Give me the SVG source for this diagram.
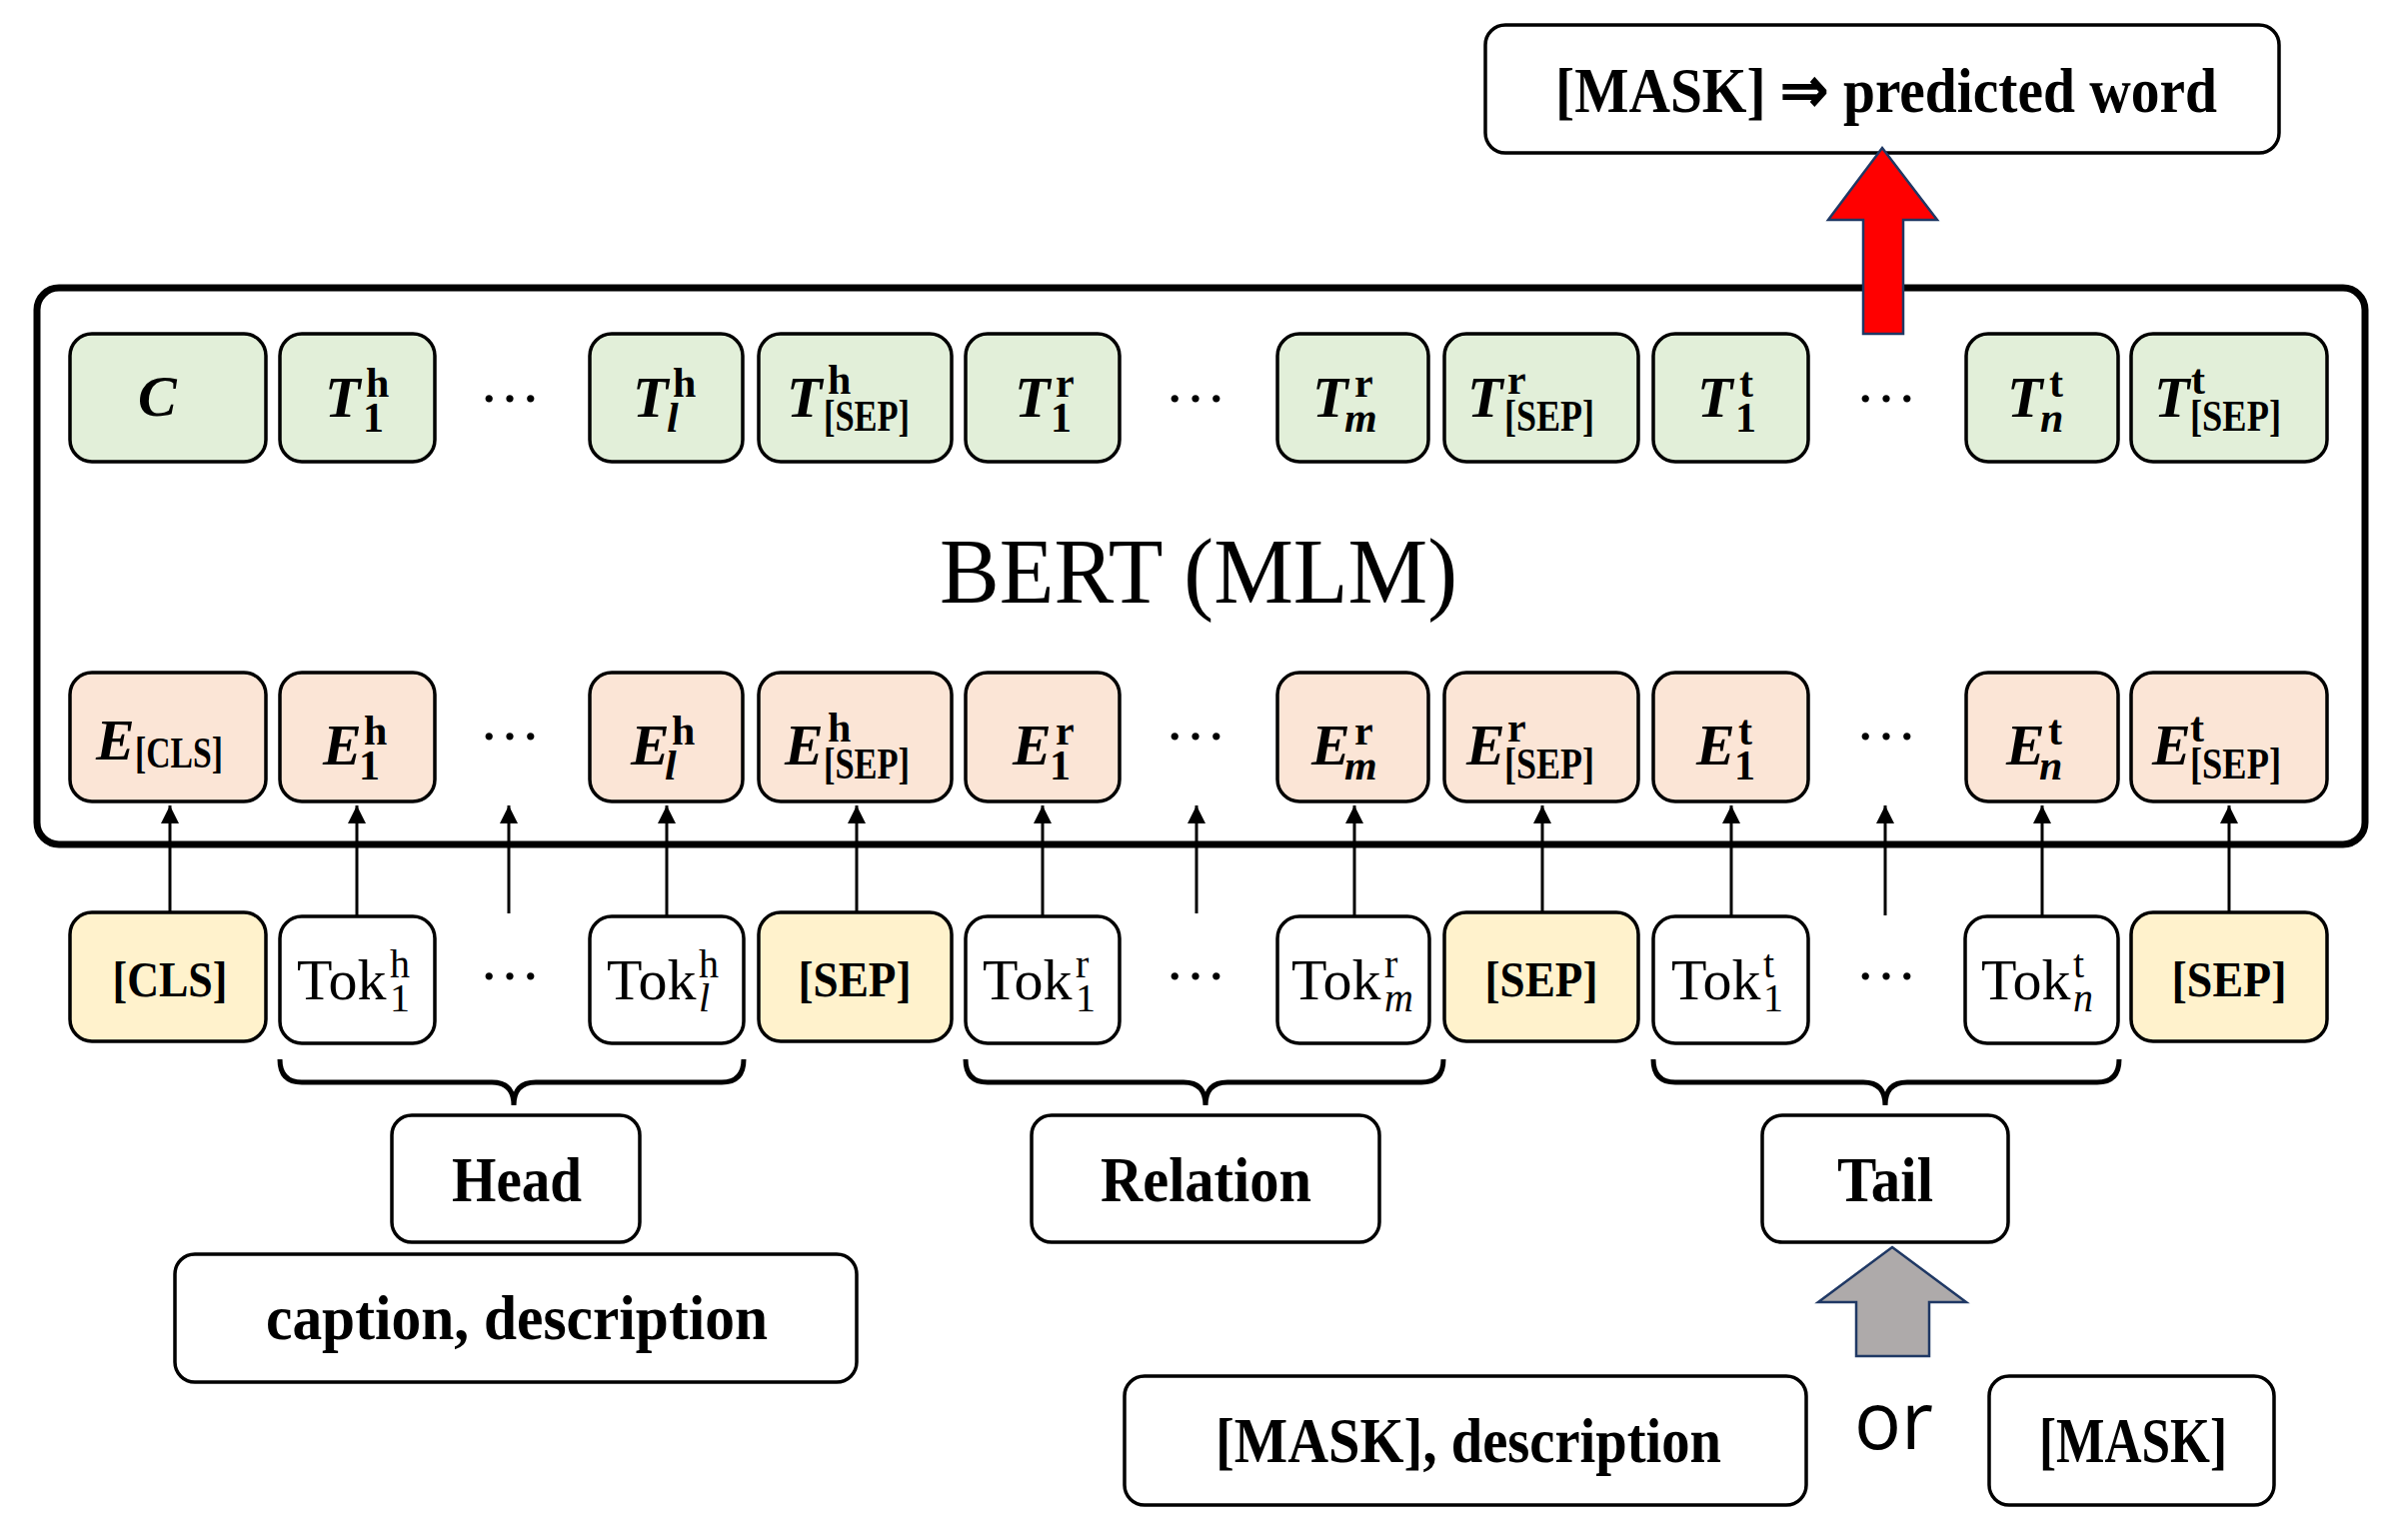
<svg xmlns="http://www.w3.org/2000/svg" width="2404" height="1541" viewBox="0 0 2404 1541">
<defs>
<marker id="ah" markerUnits="userSpaceOnUse" markerWidth="18" markerHeight="18" refX="18" refY="9" orient="auto">
<path d="M0,0 L18,9 L0,18 z" fill="#000"/>
</marker>
<style>
.bx{stroke:#000;stroke-width:3.5}
.g{fill:#E2EFD9}.e{fill:#FBE5D6}.y{fill:#FFF2CC}.w{fill:#fff}
text{font-family:"Liberation Serif",serif;fill:#000}
.mi{font-size:58px;font-weight:bold;font-style:italic}
.sb{font-size:42px;font-weight:bold;font-style:normal}
.sbi{font-size:42px;font-weight:bold;font-style:italic}
.ss{font-size:44px;font-weight:bold;font-style:normal}
.tok{font-size:58px}
.ts{font-size:40px}
.tsi{font-size:40px;font-style:italic}
.lb{font-size:64px;font-weight:bold}
.sp{font-size:50px;font-weight:bold}
.dots{font-size:62px;text-anchor:middle}
.cn{stroke:#000;stroke-width:3;fill:none}
.br{stroke:#000;stroke-width:5;fill:none}
</style>
</defs>
<rect width="2404" height="1541" fill="#fff"/>

<g id="bert">
<rect x="37" y="288" width="2329" height="557" rx="22" fill="none" stroke="#000" stroke-width="7"/>
<text x="940" y="603" font-size="94" textLength="518" lengthAdjust="spacingAndGlyphs">BERT (MLM)</text>
</g>

<g id="output-row">
<g id="T-C"><rect class="bx g" x="70" y="334" width="196" height="128" rx="22"/><text class="mi" x="138" y="416">C</text></g>
<g id="T-h1"><rect class="bx g" x="280" y="334" width="155" height="128" rx="22"/><text><tspan class="mi" x="325" y="417">T</tspan><tspan class="sb" x="366" y="397">h</tspan><tspan class="sb" x="363" y="432">1</tspan></text></g>
<text class="dots" x="510" y="402">…</text>
<g id="T-hl"><rect class="bx g" x="590" y="334" width="153" height="128" rx="22"/><text><tspan class="mi" x="633" y="417">T</tspan><tspan class="sb" x="673" y="397">h</tspan><tspan class="sbi" x="667" y="432">l</tspan></text></g>
<g id="T-hsep"><rect class="bx g" x="759" y="334" width="193" height="128" rx="22"/><text><tspan class="mi" x="787" y="417">T</tspan><tspan class="sb" x="828" y="394">h</tspan><tspan class="ss" x="824" y="431" textLength="86" lengthAdjust="spacingAndGlyphs">[SEP]</tspan></text></g>
<g id="T-r1"><rect class="bx g" x="966" y="334" width="154" height="128" rx="22"/><text><tspan class="mi" x="1015" y="417">T</tspan><tspan class="sb" x="1056" y="397">r</tspan><tspan class="sb" x="1051" y="432">1</tspan></text></g>
<text class="dots" x="1196" y="402">…</text>
<g id="T-rm"><rect class="bx g" x="1278" y="334" width="151" height="128" rx="22"/><text><tspan class="mi" x="1313" y="417">T</tspan><tspan class="sb" x="1355" y="397">r</tspan><tspan class="sbi" x="1345" y="432">m</tspan></text></g>
<g id="T-rsep"><rect class="bx g" x="1445" y="334" width="194" height="128" rx="22"/><text><tspan class="mi" x="1468" y="417">T</tspan><tspan class="sb" x="1508" y="394">r</tspan><tspan class="ss" x="1505" y="431" textLength="90" lengthAdjust="spacingAndGlyphs">[SEP]</tspan></text></g>
<g id="T-t1"><rect class="bx g" x="1654" y="334" width="155" height="128" rx="22"/><text><tspan class="mi" x="1698" y="417">T</tspan><tspan class="sb" x="1740" y="397">t</tspan><tspan class="sb" x="1736" y="432">1</tspan></text></g>
<text class="dots" x="1887" y="402">…</text>
<g id="T-tn"><rect class="bx g" x="1967" y="334" width="152" height="128" rx="22"/><text><tspan class="mi" x="2008" y="417">T</tspan><tspan class="sb" x="2050" y="397">t</tspan><tspan class="sbi" x="2041" y="432">n</tspan></text></g>
<g id="T-tsep"><rect class="bx g" x="2132" y="334" width="196" height="128" rx="22"/><text><tspan class="mi" x="2155" y="417">T</tspan><tspan class="sb" x="2192" y="394">t</tspan><tspan class="ss" x="2191" y="431" textLength="91" lengthAdjust="spacingAndGlyphs">[SEP]</tspan></text></g>
</g>

<g id="embedding-row">
<g id="E-cls"><rect class="bx e" x="70" y="673" width="196" height="129" rx="22"/><text><tspan class="mi" x="96" y="760">E</tspan><tspan class="ss" x="135" y="768" textLength="88" lengthAdjust="spacingAndGlyphs">[CLS]</tspan></text></g>
<g id="E-h1"><rect class="bx e" x="280" y="673" width="155" height="129" rx="22"/><text><tspan class="mi" x="323" y="765">E</tspan><tspan class="sb" x="364" y="745">h</tspan><tspan class="sb" x="359" y="780">1</tspan></text></g>
<text class="dots" x="510" y="740">…</text>
<g id="E-hl"><rect class="bx e" x="590" y="673" width="153" height="129" rx="22"/><text><tspan class="mi" x="631" y="765">E</tspan><tspan class="sb" x="672" y="745">h</tspan><tspan class="sbi" x="665" y="780">l</tspan></text></g>
<g id="E-hsep"><rect class="bx e" x="759" y="673" width="193" height="129" rx="22"/><text><tspan class="mi" x="785" y="765">E</tspan><tspan class="sb" x="828" y="742">h</tspan><tspan class="ss" x="824" y="779" textLength="86" lengthAdjust="spacingAndGlyphs">[SEP]</tspan></text></g>
<g id="E-r1"><rect class="bx e" x="966" y="673" width="154" height="129" rx="22"/><text><tspan class="mi" x="1013" y="765">E</tspan><tspan class="sb" x="1056" y="745">r</tspan><tspan class="sb" x="1050" y="780">1</tspan></text></g>
<text class="dots" x="1196" y="740">…</text>
<g id="E-rm"><rect class="bx e" x="1278" y="673" width="151" height="129" rx="22"/><text><tspan class="mi" x="1312" y="765">E</tspan><tspan class="sb" x="1355" y="745">r</tspan><tspan class="sbi" x="1345" y="780">m</tspan></text></g>
<g id="E-rsep"><rect class="bx e" x="1445" y="673" width="194" height="129" rx="22"/><text><tspan class="mi" x="1467" y="765">E</tspan><tspan class="sb" x="1508" y="742">r</tspan><tspan class="ss" x="1505" y="779" textLength="90" lengthAdjust="spacingAndGlyphs">[SEP]</tspan></text></g>
<g id="E-t1"><rect class="bx e" x="1654" y="673" width="155" height="129" rx="22"/><text><tspan class="mi" x="1697" y="765">E</tspan><tspan class="sb" x="1739" y="745">t</tspan><tspan class="sb" x="1735" y="780">1</tspan></text></g>
<text class="dots" x="1887" y="740">…</text>
<g id="E-tn"><rect class="bx e" x="1967" y="673" width="152" height="129" rx="22"/><text><tspan class="mi" x="2007" y="765">E</tspan><tspan class="sb" x="2049" y="745">t</tspan><tspan class="sbi" x="2040" y="780">n</tspan></text></g>
<g id="E-tsep"><rect class="bx e" x="2132" y="673" width="196" height="129" rx="22"/><text><tspan class="mi" x="2153" y="765">E</tspan><tspan class="sb" x="2191" y="742">t</tspan><tspan class="ss" x="2191" y="779" textLength="91" lengthAdjust="spacingAndGlyphs">[SEP]</tspan></text></g>
</g>

<g id="token-row">
<g id="tok-cls"><rect class="bx y" x="70" y="913" width="196" height="129" rx="22"/><text class="sp" x="170" y="997" text-anchor="middle" textLength="115" lengthAdjust="spacingAndGlyphs">[CLS]</text></g>
<g id="tok-h1"><rect class="bx w" x="280" y="917" width="155" height="127" rx="22"/><text><tspan class="tok" x="297" y="1000">Tok</tspan><tspan class="ts" x="390" y="978">h</tspan><tspan class="ts" x="390" y="1012">1</tspan></text></g>
<text class="dots" x="510" y="980">…</text>
<g id="tok-hl"><rect class="bx w" x="590" y="917" width="154" height="127" rx="22"/><text><tspan class="tok" x="607" y="1000">Tok</tspan><tspan class="ts" x="699" y="978">h</tspan><tspan class="tsi" x="699" y="1012">l</tspan></text></g>
<g id="tok-sep1"><rect class="bx y" x="759" y="913" width="193" height="129" rx="22"/><text class="sp" x="855" y="997" text-anchor="middle" textLength="113" lengthAdjust="spacingAndGlyphs">[SEP]</text></g>
<g id="tok-r1"><rect class="bx w" x="966" y="917" width="154" height="127" rx="22"/><text><tspan class="tok" x="983" y="1000">Tok</tspan><tspan class="ts" x="1076" y="978">r</tspan><tspan class="ts" x="1076" y="1012">1</tspan></text></g>
<text class="dots" x="1196" y="980">…</text>
<g id="tok-rm"><rect class="bx w" x="1278" y="917" width="152" height="127" rx="22"/><text><tspan class="tok" x="1292" y="1000">Tok</tspan><tspan class="ts" x="1385" y="978">r</tspan><tspan class="tsi" x="1385" y="1012">m</tspan></text></g>
<g id="tok-sep2"><rect class="bx y" x="1445" y="913" width="194" height="129" rx="22"/><text class="sp" x="1542" y="997" text-anchor="middle" textLength="113" lengthAdjust="spacingAndGlyphs">[SEP]</text></g>
<g id="tok-t1"><rect class="bx w" x="1654" y="917" width="155" height="127" rx="22"/><text><tspan class="tok" x="1672" y="1000">Tok</tspan><tspan class="ts" x="1764" y="978">t</tspan><tspan class="ts" x="1764" y="1012">1</tspan></text></g>
<text class="dots" x="1887" y="980">…</text>
<g id="tok-tn"><rect class="bx w" x="1966" y="917" width="153" height="127" rx="22"/><text><tspan class="tok" x="1982" y="1000">Tok</tspan><tspan class="ts" x="2074" y="978">t</tspan><tspan class="tsi" x="2074" y="1012">n</tspan></text></g>
<g id="tok-sep3"><rect class="bx y" x="2132" y="913" width="196" height="129" rx="22"/><text class="sp" x="2230" y="997" text-anchor="middle" textLength="115" lengthAdjust="spacingAndGlyphs">[SEP]</text></g>
</g>

<g id="braces">
<path class="br" d="M280,1060 Q280,1083 302,1083 L492,1083 Q514,1083 514,1106 Q514,1083 536,1083 L722,1083 Q744,1083 744,1060"/>
<path class="br" d="M966,1060 Q966,1083 988,1083 L1184,1083 Q1206,1083 1206,1106 Q1206,1083 1228,1083 L1422,1083 Q1444,1083 1444,1060"/>
<path class="br" d="M1654,1060 Q1654,1083 1676,1083 L1864,1083 Q1886,1083 1886,1106 Q1886,1083 1908,1083 L2098,1083 Q2120,1083 2120,1060"/>
</g>

<g id="head"><rect class="bx w" x="392" y="1116" width="248" height="127" rx="20"/><text class="lb" x="452" y="1202" textLength="130" lengthAdjust="spacingAndGlyphs">Head</text></g>
<g id="relation"><rect class="bx w" x="1032" y="1116" width="348" height="127" rx="20"/><text class="lb" x="1101" y="1202" textLength="211" lengthAdjust="spacingAndGlyphs">Relation</text></g>
<g id="tail"><rect class="bx w" x="1763" y="1116" width="246" height="127" rx="20"/><text class="lb" x="1838" y="1202" textLength="96" lengthAdjust="spacingAndGlyphs">Tail</text></g>
<g id="caption"><rect class="bx w" x="175" y="1255" width="682" height="128" rx="20"/><text class="lb" x="266" y="1340" textLength="502" lengthAdjust="spacingAndGlyphs">caption, description</text></g>
<g id="mask-desc"><rect class="bx w" x="1125" y="1377" width="682" height="129" rx="20"/><text class="lb" x="1216" y="1463" textLength="506" lengthAdjust="spacingAndGlyphs">[MASK], description</text></g>
<text x="1855" y="1450" style="font-family:'Open Sans',sans-serif" font-size="80" textLength="79" lengthAdjust="spacingAndGlyphs">or</text>
<g id="mask"><rect class="bx w" x="1990" y="1377" width="285" height="129" rx="20"/><text class="lb" x="2040" y="1463" textLength="188" lengthAdjust="spacingAndGlyphs">[MASK]</text></g>
<g id="prediction"><rect class="bx w" x="1486" y="25" width="794" height="128" rx="20"/><text class="lb" x="1556" y="112" textLength="662" lengthAdjust="spacingAndGlyphs">[MASK] ⇒ predicted word</text></g>

<g id="connectors">
<line class="cn" x1="170" y1="913" x2="170" y2="806" marker-end="url(#ah)"/>
<line class="cn" x1="357" y1="917" x2="357" y2="806" marker-end="url(#ah)"/>
<line class="cn" x1="509" y1="914" x2="509" y2="806" marker-end="url(#ah)"/>
<line class="cn" x1="667" y1="917" x2="667" y2="806" marker-end="url(#ah)"/>
<line class="cn" x1="857" y1="913" x2="857" y2="806" marker-end="url(#ah)"/>
<line class="cn" x1="1043" y1="917" x2="1043" y2="806" marker-end="url(#ah)"/>
<line class="cn" x1="1197" y1="914" x2="1197" y2="806" marker-end="url(#ah)"/>
<line class="cn" x1="1355" y1="917" x2="1355" y2="806" marker-end="url(#ah)"/>
<line class="cn" x1="1543" y1="913" x2="1543" y2="806" marker-end="url(#ah)"/>
<line class="cn" x1="1732" y1="917" x2="1732" y2="806" marker-end="url(#ah)"/>
<line class="cn" x1="1886" y1="916" x2="1886" y2="806" marker-end="url(#ah)"/>
<line class="cn" x1="2043" y1="917" x2="2043" y2="806" marker-end="url(#ah)"/>
<line class="cn" x1="2230" y1="913" x2="2230" y2="806" marker-end="url(#ah)"/>
<polygon points="1883,148 1938,220 1904,220 1904,334 1864,334 1864,220 1829,220" fill="#FF0000" stroke="#1F3864" stroke-width="2.5"/>
<polygon points="1893,1248 1967,1303 1930,1303 1930,1357 1857,1357 1857,1303 1819,1303" fill="#AEAAAA" stroke="#1F3864" stroke-width="2.5"/>
</g>
</svg>
